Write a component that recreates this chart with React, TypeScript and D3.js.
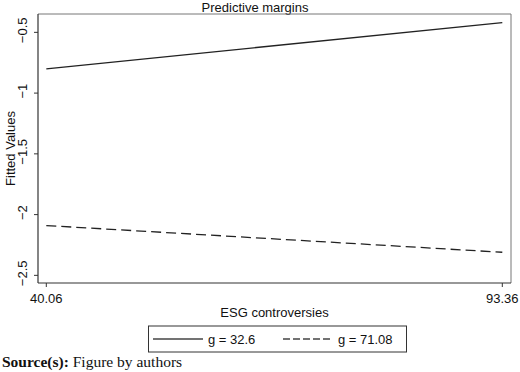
import * as d3 from "d3";

// ESG controversies at the two ends of the observed range
const xTicks = [40.06, 93.36];
const yTicks = [-0.5, -1, -1.5, -2, -2.5];

const groups = ["g = 32.6", "g = 71.08"];
const lowG = [-0.8, -0.42];
const highG = [-2.09, -2.31];

const W = 520;
const H = 372;
const margin = { top: 14, right: 9, bottom: 89, left: 38 };

export default function App() {
  const x = d3
    .scaleLinear()
    .domain([40.06, 93.36])
    .range([margin.left + 8.3, W - margin.right - 8.7]);
  const y = d3
    .scaleLinear()
    .domain([-0.349, -2.563])
    .range([margin.top, H - margin.bottom]);

  const line = d3
    .line<[number, number]>()
    .x((d) => x(d[0]))
    .y((d) => y(d[1]));

  const series = [lowG, highG].map((vals) =>
    vals.map((v, i) => [xTicks[i], v] as [number, number])
  );
  const dashes = [null, "10,5"];
  const legendDashes = [null, "7,3"];

  const left = margin.left;
  const right = W - margin.right;
  const top = margin.top;
  const bottom = H - margin.bottom;
  const font = "Arial, 'Liberation Sans', sans-serif";

  return (
    <>
      <style>{`body{margin:0}`}</style>
      <svg width={W} height={H} style={{ display: "block", background: "#fff" }}>
        <text x={255} y={12} fontSize={13} fontFamily={font} textAnchor="middle" fill="#111">
          Predictive margins
        </text>

        {/* frame */}
        <line x1={left} x2={right} y1={top} y2={top} stroke="#777" strokeWidth={1} />
        <line x1={right} x2={right} y1={top} y2={bottom} stroke="#777" strokeWidth={1} />
        <line x1={left} x2={left} y1={top} y2={bottom} stroke="#333" strokeWidth={1.2} />
        <line x1={left} x2={right} y1={bottom} y2={bottom} stroke="#333" strokeWidth={1.2} />

        {yTicks.map((t) => (
          <g key={t}>
            <line x1={left - 4} x2={left} y1={y(t)} y2={y(t)} stroke="#333" />
            <text
              transform={`translate(27,${y(t) - 2}) rotate(-90)`}
              fontSize={13}
              fontFamily={font}
              textAnchor="middle"
              fill="#111"
            >
              {d3.format("")(t).replace("-", "\u2212")}
            </text>
          </g>
        ))}
        <text
          transform={`translate(15,${(top + bottom) / 2}) rotate(-90)`}
          fontSize={13}
          fontFamily={font}
          textAnchor="middle"
          fill="#111"
        >
          Fitted Values
        </text>

        {xTicks.map((t) => (
          <g key={t}>
            <line x1={x(t)} x2={x(t)} y1={bottom} y2={bottom + 4} stroke="#333" />
            <text x={x(t)} y={303} fontSize={13} fontFamily={font} textAnchor="middle" fill="#111">
              {t.toFixed(2)}
            </text>
          </g>
        ))}
        <text
          x={(left + right) / 2}
          y={317}
          fontSize={13}
          fontFamily={font}
          textAnchor="middle"
          fill="#111"
        >
          ESG controversies
        </text>

        {series.map((s, i) => (
          <path
            key={i}
            d={line(s) ?? ""}
            fill="none"
            stroke="#222"
            strokeWidth={1.3}
            strokeDasharray={dashes[i] ?? undefined}
          />
        ))}

        {/* legend */}
        <rect x={148.5} y={326} width={258} height={26} fill="#fff" stroke="#333" strokeWidth={1} />
        {groups.map((g, i) => {
          const x0 = i === 0 ? 153 : 283;
          return (
            <g key={g}>
              <line
                x1={x0}
                x2={x0 + 50}
                y1={339}
                y2={339}
                stroke="#444"
                strokeWidth={1.3}
                strokeDasharray={legendDashes[i] ?? undefined}
              />
              <text x={x0 + 55} y={343.5} fontSize={13} fontFamily={font} fill="#111">
                {g}
              </text>
            </g>
          );
        })}

        <text x={2} y={367} fontSize={15.5} fontFamily="'Liberation Serif', 'Times New Roman', serif" fill="#111">
          <tspan fontWeight="bold">Source(s):</tspan> Figure by authors
        </text>
      </svg>
    </>
  );
}
